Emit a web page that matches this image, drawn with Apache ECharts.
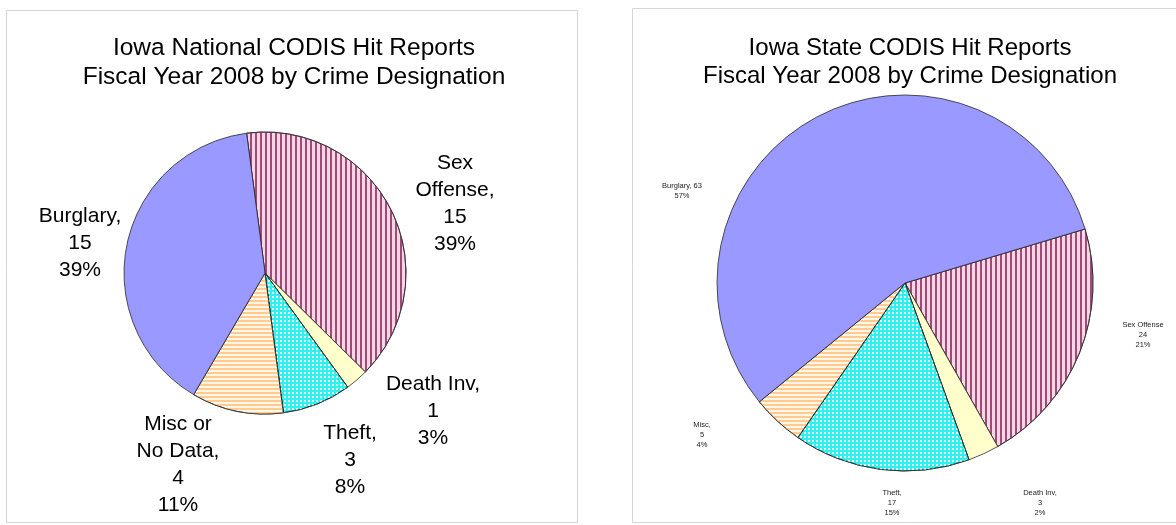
<!DOCTYPE html>
<html>
<head>
<meta charset="utf-8">
<script src="https://cdn.jsdelivr.net/npm/echarts@6/dist/echarts.min.js"></script>
<style>
  html, body { margin: 0; padding: 0; background: #ffffff; }
  #chart { width: 1176px; height: 525px; }
</style>
</head>
<body>
<div id="chart"></div>
<script>
// ---- data ----
const categories = ['Sex Offense', 'Death Inv', 'Theft', 'Misc', 'Burglary'];

const nationalTitle = 'Iowa National CODIS Hit Reports\nFiscal Year 2008 by Crime Designation';
const nationalLabelNames = ['Sex\nOffense,', 'Death Inv,', 'Theft,', 'Misc or\nNo Data,', 'Burglary,'];
const nationalValues = [15, 1, 3, 4, 15];
const nationalPercents = [39, 3, 8, 11, 39];

const stateTitle = 'Iowa State CODIS Hit Reports\nFiscal Year 2008 by Crime Designation';
const stateLabelNames = ['Sex Offense', 'Death Inv,', 'Theft,', 'Misc,', 'Burglary,'];
const stateValues = [24, 3, 17, 5, 63];
const statePercents = [21, 2, 15, 4, 57];

// ---- styles ----
const sliceStyles = [
  { color: '#F7D6E6', decal: { symbol: 'rect', symbolSize: 1, color: '#A04A79', dashArrayX: [1.5, 2.5], dashArrayY: [4, 0] } },
  { color: '#FFFFCC' },
  { color: '#2FEFEF', decal: { symbol: 'rect', symbolSize: 1, color: '#E6FFFF', dashArrayX: [2, 2], dashArrayY: [2, 2] } },
  { color: '#FFF6EA', decal: { symbol: 'rect', symbolSize: 1, color: '#FFCB8E', dashArrayX: [4, 0], dashArrayY: [2, 2] } },
  { color: '#9999FF' }
];

// label anchor positions (pixel centres of the label blocks)
const nationalLabelPos = [[455, 204], [433, 411], [350, 460], [178, 465], [80, 243]];
const stateLabelPos = [[1143, 335], [1040, 503], [892, 503], [702, 435], [682, 191]];

function buildData(values, names, pcts, joinFirst) {
  return values.map((v, i) => ({
    name: categories[i],
    value: v,
    itemStyle: Object.assign({ borderColor: '#2a2a2a', borderWidth: 0.8 }, sliceStyles[i]),
    labelText: joinFirst && i === 4 ? names[i] + ' ' + v + '\n' + pcts[i] + '%' : names[i] + '\n' + v + '\n' + pcts[i] + '%'
  }));
}

const natData = buildData(nationalValues, nationalLabelNames, nationalPercents, false);
const stData = buildData(stateValues, stateLabelNames, statePercents, true);

const chart = echarts.init(document.getElementById('chart'), null, { renderer: 'canvas' });
const font = '"Liberation Sans", Arial, sans-serif';

chart.setOption({
  backgroundColor: '#ffffff',
  animation: false,
  title: [
    { text: nationalTitle, left: 289, top: 29, textAlign: 'center',
      textStyle: { fontFamily: font, fontSize: 24.5, fontWeight: 'normal', color: '#000', lineHeight: 29 } },
    { text: stateTitle, left: 905, top: 29, textAlign: 'center',
      textStyle: { fontFamily: font, fontSize: 24, fontWeight: 'normal', color: '#000', lineHeight: 28 } }
  ],
  graphic: [
    { type: 'rect', shape: { x: 6.5, y: 10.5, width: 571, height: 512 }, style: { fill: 'none', stroke: '#d6d6d6', lineWidth: 1 }, silent: true },
    { type: 'rect', shape: { x: 632.5, y: 8.5, width: 560, height: 514 }, style: { fill: 'none', stroke: '#d6d6d6', lineWidth: 1 }, silent: true }
  ],
  series: [
    {
      type: 'pie',
      center: [265, 273],
      radius: 141,
      startAngle: 97.5,
      clockwise: true,
      avoidLabelOverlap: false,
      data: natData,
      label: {
        show: true, position: 'outside',
        formatter: p => natData[p.dataIndex].labelText,
        fontFamily: font, fontSize: 21, lineHeight: 27, color: '#000', align: 'center'
      },
      labelLine: { show: false },
      labelLayout: p => ({ x: nationalLabelPos[p.dataIndex][0], y: nationalLabelPos[p.dataIndex][1], align: 'center', verticalAlign: 'middle' }),
      emphasis: { disabled: true }
    },
    {
      type: 'pie',
      center: [905, 283],
      radius: 188,
      startAngle: 16.7,
      clockwise: true,
      avoidLabelOverlap: false,
      data: stData,
      label: {
        show: true, position: 'outside',
        formatter: p => stData[p.dataIndex].labelText,
        fontFamily: font, fontSize: 7.5, lineHeight: 10, color: '#222', align: 'center'
      },
      labelLine: { show: false },
      labelLayout: p => ({ x: stateLabelPos[p.dataIndex][0], y: stateLabelPos[p.dataIndex][1], align: 'center', verticalAlign: 'middle' }),
      emphasis: { disabled: true }
    }
  ]
});
</script>
</body>
</html>
